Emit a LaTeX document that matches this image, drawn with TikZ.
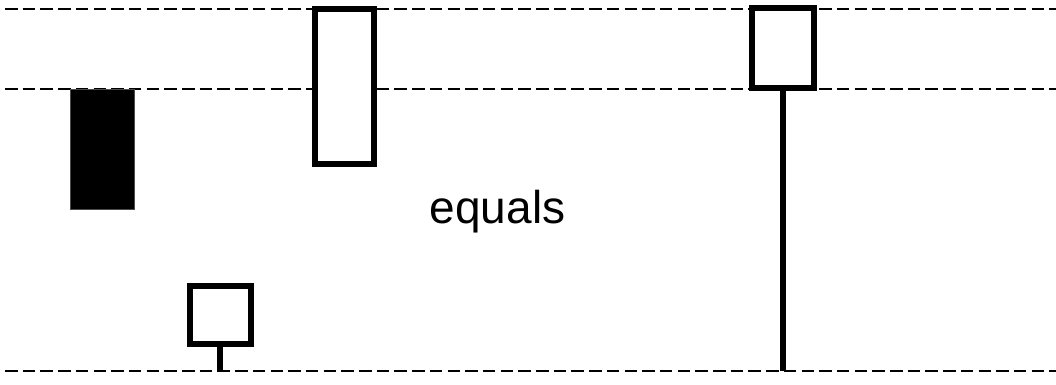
\documentclass[tikz,border=0pt]{standalone}
\usepackage{fontspec}
\setmainfont{Liberation Sans}
\begin{document}
\begin{tikzpicture}[x=1pt,y=-1pt,
  guide/.style={line width=2pt, dash pattern=on 12.5pt off 5.2pt},
  hollow/.style={draw, fill=white, line width=6pt, inner sep=0pt},
  solidbar/.style={draw=black!70, fill=black, line width=1pt, inner sep=0pt},
  wick/.style={line width=6pt}]
\useasboundingbox (0,0) rectangle (1056,384);

% horizontal reference levels
\coordinate (t0) at (5,9);    \coordinate (t1) at (1056,9);
\coordinate (m0) at (5,89);   \coordinate (m1) at (1056,89);
\coordinate (b0) at (5,371);  \coordinate (b1) at (1056,371);
\draw[guide] (t0) -- (t1);
\draw[guide] (m0) -- (m1);
\draw[guide] (b0) -- (b1);

% candle bodies
\node[solidbar, minimum width=64pt, minimum height=120pt] (c1) at (102,149) {};
\node[hollow, minimum width=59pt, minimum height=155pt] (c2) at (344.5,86.5) {};
\node[hollow, minimum width=61pt, minimum height=58pt] (c3) at (220,315) {};
\node[hollow, minimum width=62pt, minimum height=80pt] (c4) at (782.5,48) {};

% wicks
\coordinate (w3) at (220,371);
\coordinate (w4) at (782.5,371);
\draw[wick] (c3.south) -- (w3);
\draw[wick] (c4.south) -- (w4);

\node[anchor=base, inner sep=0pt, font=\fontsize{46}{55}\selectfont] (lbl) at (497.5,223) {equals};
\end{tikzpicture}
\end{document}
